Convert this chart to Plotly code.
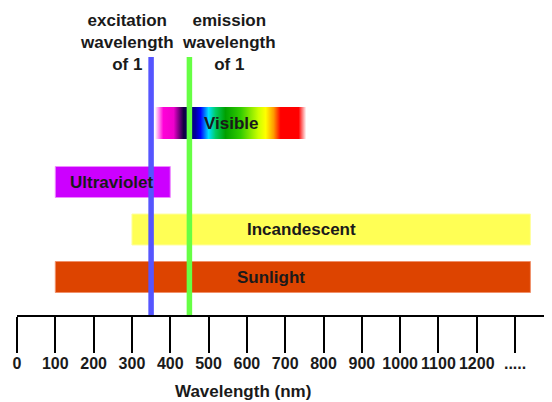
import plotly.graph_objects as go

# ---- data ----
band_names = ["Sunlight", "Incandescent", "Ultraviolet"]
band_start = [100, 300, 100]        # nm
band_end = [1340, 1340, 400]        # nm
band_colors = ["#dd4400", "#ffff55", "#cc00ff"]
band_edges = ["#f0906a", "#ffffa0", "#ee88ff"]
band_row = [38, 85.5, 133]          # vertical row positions

visible_start, visible_end = 360, 755
visible_row = 192
# colour stops of the visible spectrum (wavelength nm, colour)
spectrum_wl = [360, 382, 409, 435, 466, 479, 500, 518, 544, 584, 630, 649, 670, 688, 735, 755]
spectrum_col = ["#ffffff", "#ff00d8", "#ee00cc", "#100040", "#0000a0", "#0000ff", "#00e0ff",
                "#00cc66", "#00a000", "#33cc00", "#ccff00", "#ffff00", "#ff9900", "#ff0000",
                "#ff0000", "#ffffff"]

excitation_nm = 350
emission_nm = 450

tick_vals = [0, 100, 200, 300, 400, 500, 600, 700, 800, 900, 1000, 1100, 1200, 1300]
tick_text = ["0", "100", "200", "300", "400", "500", "600", "700", "800", "900",
             "1000", "1100", "1200", "....."]

FONT = "Liberation Sans, Arial, sans-serif"
TXT = "#1a1a1a"

PLOT_H = 307
fig = go.Figure()

# coloured bands
fig.add_trace(go.Bar(
    y=band_row, base=band_start,
    x=[e - s for s, e in zip(band_start, band_end)],
    orientation="h", width=31,
    marker=dict(color=band_colors, line=dict(color=band_edges, width=1)),
    hoverinfo="skip", showlegend=False,
))

# visible spectrum with gradient
span = visible_end - visible_start
cs = [[(w - visible_start) / span, c] for w, c in zip(spectrum_wl, spectrum_col)]
fig.add_trace(go.Scatter(
    x=[visible_start, visible_end, visible_end, visible_start, visible_start],
    y=[visible_row - 16, visible_row - 16, visible_row + 16, visible_row + 16, visible_row - 16],
    mode="lines", line=dict(width=0), fill="toself",
    fillgradient=dict(type="horizontal", colorscale=cs),
    hoverinfo="skip", showlegend=False,
))

# excitation / emission lines
line_top = 258
fig.add_trace(go.Scatter(x=[excitation_nm, excitation_nm], y=[0, line_top], mode="lines",
                         line=dict(color="#5555ff", width=5.5), hoverinfo="skip", showlegend=False))
fig.add_trace(go.Scatter(x=[emission_nm, emission_nm], y=[0, line_top], mode="lines",
                         line=dict(color="#66ff44", width=5.5), hoverinfo="skip", showlegend=False))

def label(x, y, text, yref="y"):
    fig.add_annotation(x=x, y=y, xref="x", yref=yref, text=text, showarrow=False,
                       font=dict(family=FONT, size=17, color=TXT, weight="bold"),
                       xanchor="center", yanchor="middle")

label(560, visible_row, "Visible")
label(246, band_row[2], "Ultraviolet")
label(743, band_row[1], "Incandescent")
label(664, band_row[0], "Sunlight")
label(286, 273, "excitation<br>wavelength<br>of 1")
label(554, 273, "emission<br>wavelength<br>of 1")
label(591, -76 / PLOT_H, "Wavelength (nm)", yref="paper")

fig.update_layout(
    width=544, height=394,
    margin=dict(l=8.5, r=0, t=0, b=87),
    paper_bgcolor="white", plot_bgcolor="white",
    barmode="overlay",
    xaxis=dict(range=[0, 535.5 / 0.3835], showgrid=False, zeroline=False,
               showline=True, linecolor="black", linewidth=2,
               tickmode="array", tickvals=tick_vals, ticktext=tick_text,
               ticks="outside", ticklen=36, tickwidth=2, tickcolor="black",
               ticklabelstandoff=-3,
               tickfont=dict(family=FONT, size=16, color=TXT, weight="bold")),
    yaxis=dict(range=[0, PLOT_H], visible=False, fixedrange=True),
)

fig.write_html("out.html")
